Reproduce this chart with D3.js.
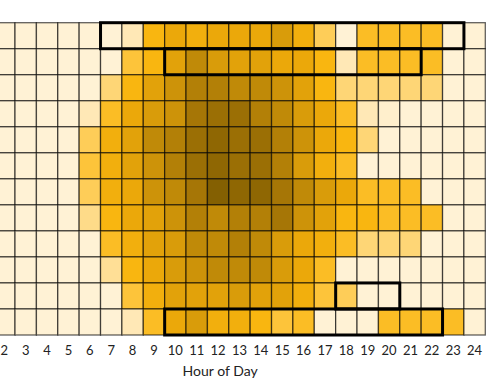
<!DOCTYPE html>
<html>
<head>
<meta charset="utf-8">
<script src="https://cdn.jsdelivr.net/npm/d3@7"></script>
<style>
  body { margin: 0; background: #fff; }
  svg { display: block; }
</style>
</head>
<body>
<svg id="chart" width="500" height="383"></svg>
<script>
// hours of the day (the left columns are cut off by the frame)
const hours = d3.range(0, 25);
const months = ["Jan", "Feb", "Mar", "Apr", "May", "Jun", "Jul", "Aug", "Sep", "Oct", "Nov", "Dec"];

// intensity per month, one value per hour 0..24 (0 = quiet, 9 = busiest)
const jan = [0,0,0,0,0,0,0,0,1,4,5,4.5,5,5,5,6,4.5,2.5,0,3.5,3.5,3.5,3.5,0,0];
const feb = [0,0,0,0,0,0,0,0,3,4,5.5,7,6,5.5,5.5,5,5,4,1,3.5,3.5,3.5,3.5,0,0];
const mar = [0,0,0,0,0,0,0,2,4,5.5,6.5,7.5,7.5,7,7,6.5,5.5,4,2,2,2,2,2,0,0];
const apr = [0,0,0,0,0,0,1,3.5,5,6,6.5,8,8.5,8.5,7.5,7,6,5,3.5,1,0.3,0,0,0,0];
const may = [0,0,0,0,0,0,2.5,4.5,5.5,7,7.5,8.5,9,8.5,8.5,7.5,6.5,5,4,2,0,0,0,0,0];
const jun = [0,0,0,0,0,0,3,4.5,5.5,6.5,7.5,8.5,9,8.5,8.5,7.5,6,4.5,3.5,0,0,0,0,0,0];
const jul = [0,0,0,0,0,0,2.5,4.5,5,6.5,7,8,9.5,9,9,8,7,6,5,3.5,3.5,3.5,0,0,0];
const aug = [0,0,0,0,0,0,1.7,4,5,5.5,6.5,7.5,7,7.5,7.5,8,6.5,5.5,4,4,3.5,3.5,3.5,0,0];
const sep = [0,0,0,0,0,0,0,3.5,4.5,5.5,6,7,7,7.5,7,6,5,4.5,3.5,2,2,2,0,0,0];
const oct = [0,0,0,0,0,0,0,1.5,4,5,6,6.5,7,7,7,6,5,3.5,0,0,0,0,0,0,0];
const nov = [0,0,0,0,0,0,0,0,3,4.5,5.5,5.5,5.5,6,5.5,5.5,4.5,3,2.5,0,0,0,0,0,0];
const dec = [0,0,0,0,0,0,0,0,1,3.5,5,6,4.5,4.5,4,3,3.5,0,0,0,3.5,3.5,3.5,3.5,0];
const series = [jan, feb, mar, apr, may, jun, jul, aug, sep, oct, nov, dec];

// highlighted blocks: month, first hour, last hour
const highlights = [
  { month: "Jan", from: 7, to: 23 },
  { month: "Feb", from: 10, to: 21 },
  { month: "Nov", from: 18, to: 20 },
  { month: "Dec", from: 10, to: 22 }
];

const tickHours = d3.range(2, 25);

const svg = d3.select("#chart");
const gridLeft = -49.1, gridRight = 485.3, gridTop = 22.7, gridBottom = 335;

const x = d3.scaleBand().domain(hours).range([gridLeft, gridRight]);
const y = d3.scaleBand().domain(months).range([gridTop, gridBottom]);

const color = d3.scaleLinear()
  .domain([0, 1, 2, 3, 4, 5, 6, 7, 8, 9, 9.5])
  .range(["#fff2d5", "#ffe8b6", "#fed676", "#fdc43a", "#f9b610", "#eba80a",
          "#d99c0a", "#c08a08", "#a67606", "#8f6703", "#846002"])
  .clamp(true);

const cells = [];
months.forEach((m, i) => {
  hours.forEach((h, j) => cells.push({ month: m, hour: h, value: series[i][j] }));
});

svg.append("g")
  .selectAll("rect")
  .data(cells)
  .join("rect")
  .attr("x", d => x(d.hour))
  .attr("y", d => y(d.month))
  .attr("width", x.bandwidth())
  .attr("height", y.bandwidth())
  .attr("fill", d => color(d.value))
  .attr("stroke", "rgba(0,0,0,0.62)")
  .attr("stroke-width", 1.3);

// thick outlines
svg.append("g")
  .selectAll("rect")
  .data(highlights)
  .join("rect")
  .attr("x", d => x(d.from))
  .attr("y", d => y(d.month))
  .attr("width", d => x(d.to) + x.bandwidth() - x(d.from))
  .attr("height", y.bandwidth())
  .attr("fill", "none")
  .attr("stroke", "#000")
  .attr("stroke-width", 3);

// hour labels
const xAxis = svg.append("g")
  .attr("transform", "translate(0," + gridBottom + ")")
  .call(d3.axisBottom(x).tickValues(tickHours).tickSize(0).tickPadding(11));
xAxis.select(".domain").remove();
xAxis.selectAll("text")
  .attr("font-family", "Lato, 'Open Sans', sans-serif")
  .attr("font-size", 13)
  .attr("fill", "#222");

svg.append("text")
  .attr("x", (gridLeft + gridRight) / 2 + 2)
  .attr("y", 376)
  .attr("text-anchor", "middle")
  .attr("font-family", "Lato, 'Open Sans', sans-serif")
  .attr("font-size", 14)
  .attr("fill", "#222")
  .text("Hour of Day");
</script>
</body>
</html>
